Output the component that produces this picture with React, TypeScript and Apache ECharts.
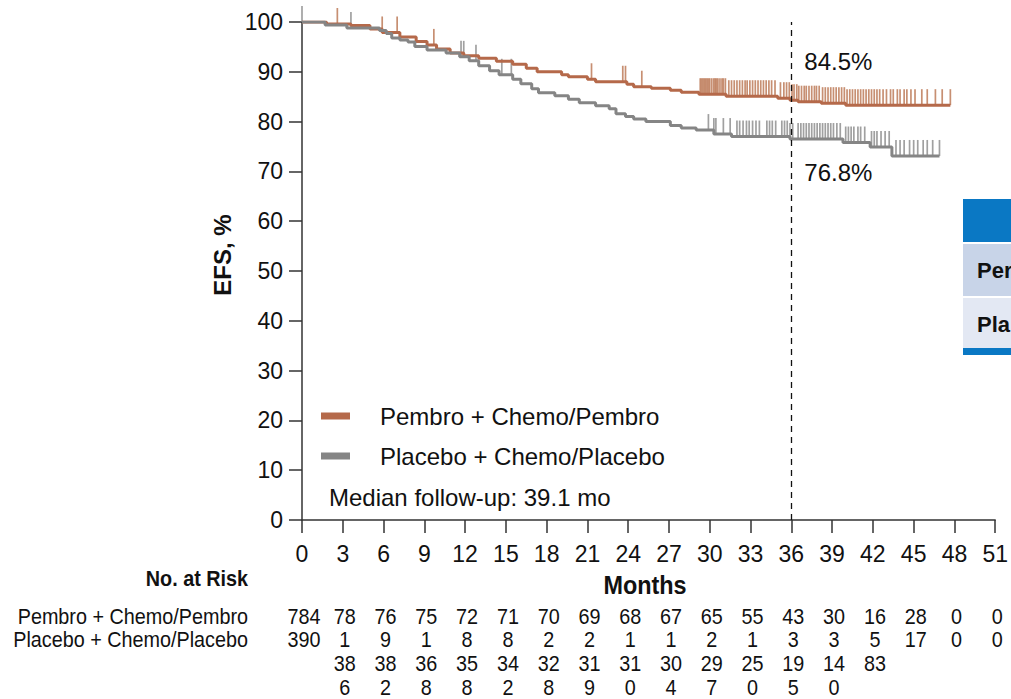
import React, { useEffect, useRef } from "react";
import * as echarts from "echarts";

const monthMax = 51;
const pembroName = "Pembro + Chemo/Pembro";
const placeboName = "Placebo + Chemo/Placebo";

const pembroTimes = [0, 1.8, 3.6, 5.0, 5.9, 7.2, 8.4, 9.2, 9.9, 10.9, 11.9, 13.0, 14.3, 15.5, 16.5, 17.3, 19.1, 19.6, 21.0, 21.6, 23.9, 24.4, 25.7, 27.1, 27.9, 29.2, 31.2, 35.0, 35.9, 36.5, 38.2, 40.0, 47.7];
const pembroSurv = [100, 99.6, 99.3, 98.6, 97.9, 97.0, 96.1, 95.4, 94.6, 93.8, 93.2, 92.7, 92.1, 91.5, 90.7, 90.0, 89.4, 89.0, 88.5, 88.0, 87.5, 87.0, 86.7, 86.3, 85.9, 85.5, 85.1, 84.7, 84.3, 84.0, 83.7, 83.3, 83.3];

const placeboTimes = [0, 1.7, 3.3, 5.7, 6.2, 6.6, 7.2, 7.8, 8.3, 9.2, 10.6, 11.6, 12.3, 13.0, 13.8, 14.5, 15.5, 16.1, 16.9, 17.4, 18.6, 19.6, 20.4, 21.6, 22.6, 23.1, 23.8, 24.4, 25.3, 27.1, 27.9, 29.0, 30.3, 31.6, 35.9, 39.8, 41.8, 43.4, 46.9];
const placeboSurv = [100, 99.4, 98.8, 98.3, 97.7, 96.8, 96.4, 96.0, 95.1, 94.4, 93.8, 93.0, 92.2, 91.2, 90.2, 89.4, 88.5, 87.6, 86.6, 85.8, 85.2, 84.5, 83.8, 83.2, 82.6, 81.6, 81.0, 80.5, 80.0, 79.2, 78.7, 78.3, 77.5, 77.0, 76.5, 75.8, 74.9, 73.1, 73.1];

const pembroCensor = [2.6, 5.9, 7.0, 9.7, 21.3, 23.6, 23.8, 25.0,
  29.3, 29.4, 29.5, 29.6, 29.7, 29.8, 29.9, 30.0, 30.15, 30.3, 30.4, 30.5, 30.6, 30.75, 30.9, 31.0, 31.15,
  31.4, 31.6, 31.8, 32.0, 32.2, 32.4, 32.6, 32.75, 32.95, 33.15, 33.35, 33.55, 33.75, 33.95, 34.15, 34.35, 34.55, 34.8,
  35.2, 35.45, 35.65, 35.85, 36.05, 36.2, 36.4, 36.55, 36.75, 36.95, 37.1, 37.3, 37.5, 37.7, 37.85, 38.05, 38.3, 38.5, 38.7, 38.9,
  39.1, 39.3, 39.5, 39.7, 39.9, 40.1, 40.3, 40.5, 40.7, 40.9, 41.1, 41.3, 41.5, 41.7, 41.9, 42.1, 42.3, 42.5, 42.75, 43.0, 43.3,
  43.5, 43.8, 44.0, 44.3, 44.5, 44.8, 45.1, 45.6, 46.0, 46.6, 47.1, 47.7];
const placeboCensor = [0, 3.6, 11.7, 11.9, 12.8, 14.7, 15.4,
  29.9, 30.3, 30.45, 31.0, 31.5, 32.0, 32.2, 32.45, 32.7, 32.9, 33.15, 33.4, 33.65, 34.2, 34.4, 34.6, 34.85, 35.3, 35.5, 35.7, 35.9,
  36.1, 36.5, 36.7, 36.9, 37.1, 37.3, 37.5, 37.7, 37.9, 38.1, 38.3, 38.5, 38.7, 38.9, 39.1, 39.35, 39.6, 40.0, 40.2, 40.4, 40.6,
  40.9, 41.1, 41.4, 41.9, 42.1, 42.3, 42.6, 42.9, 43.2, 43.7, 44.0, 44.3, 44.7, 45.0, 45.3, 45.7, 46.0, 46.4, 46.9];

const riskMonths = [0, 3, 6, 9, 12, 15, 18, 21, 24, 27, 30, 33, 36, 39, 42, 45, 48, 51];
const pembroAtRisk = [784, 781, 769, 751, 728, 718, 702, 692, 681, 671, 652, 551, 433, 303, 165, 28, 0, 0];
const placeboAtRisk = [390, 386, 382, 368, 358, 342, 328, 319, 310, 304, 297, 250, 195, 140, 83, 17, 0, 0];

const landmarkMonth = 36;
const landmarkPembroLabel = "84.5%";
const landmarkPlaceboLabel = "76.8%";
const followUpText = "Median follow-up: 39.1 mo";
const tableRowLabels = ["Per", "Pla"];

const ORANGE = "#B5694A";
const ORANGE_TICK = "#B9734F";
const GREY = "#858585";
const GREY_TICK = "#888888";
const SANS = "'Liberation Sans', Arial, sans-serif";

function survAt(times: number[], vals: number[], t: number) {
  let v = vals[0];
  for (let i = 0; i < times.length; i++) {
    if (times[i] <= t) v = vals[i];
  }
  return v;
}

function wrapCell(n: number, col: number): string[] {
  const s = String(n);
  if (col > 0 && s.length > 2) return [s.slice(0, 2), s.slice(2)];
  return [s];
}

export default function App() {
  const ref = useRef<HTMLDivElement>(null);
  useEffect(() => {
    if (!ref.current) return;
    const chart = echarts.init(ref.current, null, { renderer: "svg" });
    const option: any = {
      animation: false,
      grid: { left: 302, top: 22, right: 14, bottom: 179, containLabel: false },
      xAxis: {
        type: "value",
        min: 0,
        max: monthMax,
        interval: 3,
        axisLine: { lineStyle: { color: "#333", width: 1.5 } },
        axisTick: { length: 13, lineStyle: { color: "#333", width: 1.5 } },
        axisLabel: { fontFamily: SANS, fontSize: 23, color: "#111", margin: 22 },
        splitLine: { show: false },
      },
      yAxis: {
        type: "value",
        min: 0,
        max: 100,
        interval: 10,
        axisLine: { show: true, lineStyle: { color: "#333", width: 1.5 } },
        axisTick: { show: true, length: 13, lineStyle: { color: "#333", width: 1.5 } },
        axisLabel: { fontFamily: SANS, fontSize: 23, color: "#111", margin: 19 },
        splitLine: { show: false },
      },
      legend: {
        data: [pembroName, placeboName],
        orient: "vertical",
        left: 321,
        top: 404,
        padding: 0,
        icon: "rect",
        itemWidth: 29,
        itemHeight: 7,
        itemGap: 16,
        textStyle: { fontFamily: SANS, fontSize: 24, color: "#111", padding: [0, 0, 0, 25] },
      },
      series: [
        {
          name: pembroName,
          type: "line",
          step: "end",
          showSymbol: false,
          data: pembroTimes.map((t, i) => [t, pembroSurv[i]]),
          lineStyle: { color: ORANGE, width: 3 },
          itemStyle: { color: ORANGE },
          z: 3,
          markLine: {
            silent: true,
            symbol: "none",
            label: { show: false },
            lineStyle: { type: [6, 5], color: "#111", width: 1.3 },
            data: [{ xAxis: landmarkMonth }],
          },
        },
        {
          name: placeboName,
          type: "line",
          step: "end",
          showSymbol: false,
          data: placeboTimes.map((t, i) => [t, placeboSurv[i]]),
          lineStyle: { color: GREY, width: 3 },
          itemStyle: { color: GREY },
          z: 3,
        },
        {
          name: "pembroCensor",
          type: "scatter",
          symbol: "rect",
          symbolSize: [1.7, 16],
          symbolOffset: [0, -8],
          data: pembroCensor.map((t) => [t, survAt(pembroTimes, pembroSurv, t)]),
          itemStyle: { color: ORANGE_TICK },
          z: 2,
          silent: true,
        },
        {
          name: "placeboCensor",
          type: "scatter",
          symbol: "rect",
          symbolSize: [1.7, 16],
          symbolOffset: [0, -8],
          data: placeboCensor.map((t) => [t, survAt(placeboTimes, placeboSurv, t)]),
          itemStyle: { color: GREY_TICK },
          z: 2,
          silent: true,
        },
      ],
    };
    chart.setOption(option);

    const px = (m: number, v: number) => chart.convertToPixel({ xAxisIndex: 0, yAxisIndex: 0 }, [m, v]) as number[];
    const graphics: any[] = [];
    const txt = (text: string, x: number, y: number, font: string, align = "left", extra: any = {}) => ({
      type: "text",
      x,
      y,
      silent: true,
      ...extra,
      style: { text, font, fill: "#111", align, verticalAlign: "middle", textAlign: align, textVerticalAlign: "middle" },
    });

    // axis titles
    graphics.push(txt("EFS, %", 222, 255, `bold 24px ${SANS}`, "center", { rotation: Math.PI / 2 }));
    graphics.push(txt("Months", 645, 585, `bold 26px ${SANS}`, "center", { scaleX: 0.9 }));

    const lm = px(landmarkMonth, 0);
    const yP = px(0, 92.0)[1];
    const yQ = px(0, 69.7)[1];
    graphics.push(txt(landmarkPembroLabel, lm[0] + 13, yP, `24px ${SANS}`));
    graphics.push(txt(landmarkPlaceboLabel, lm[0] + 13, yQ, `24px ${SANS}`));
    graphics.push(txt(followUpText, 329, 497, `24px ${SANS}`));

    // Right-side table fragment
    graphics.push({ type: "rect", shape: { x: 963, y: 199, width: 60, height: 43 }, style: { fill: "#0A78C4" }, silent: true });
    graphics.push({ type: "rect", shape: { x: 963, y: 244, width: 60, height: 52 }, style: { fill: "#C8D4E8" }, silent: true });
    graphics.push({ type: "rect", shape: { x: 963, y: 298, width: 60, height: 50 }, style: { fill: "#E3E8F3" }, silent: true });
    graphics.push({ type: "rect", shape: { x: 963, y: 348, width: 60, height: 7 }, style: { fill: "#0A78C4" }, silent: true });
    graphics.push(txt(tableRowLabels[0], 977, 270, `bold 22px ${SANS}`));
    graphics.push(txt(tableRowLabels[1], 977, 324, `bold 22px ${SANS}`));

    // Risk table
    const rowY = [616, 639, 663, 687];
    const narrow = { scaleX: 0.9 };
    graphics.push(txt("No. at Risk", 248, 578, `bold 22px ${SANS}`, "right", narrow));
    graphics.push(txt(pembroName, 248, rowY[0], `22px ${SANS}`, "right", narrow));
    graphics.push(txt(placeboName, 248, rowY[1], `22px ${SANS}`, "right", narrow));
    riskMonths.forEach((m, i) => {
      const x = px(m, 0)[0] + 2;
      const lines = [...wrapCell(pembroAtRisk[i], i), ...wrapCell(placeboAtRisk[i], i)];
      lines.forEach((s, j) => {
        graphics.push(txt(s, x, rowY[j], `22px ${SANS}`, "center", narrow));
      });
    });

    chart.setOption({ graphic: graphics });
    return () => chart.dispose();
  }, []);
  return <div ref={ref} style={{ position: "fixed", left: 0, top: 0, width: 1011, height: 699, background: "#fff" }} />;
}
